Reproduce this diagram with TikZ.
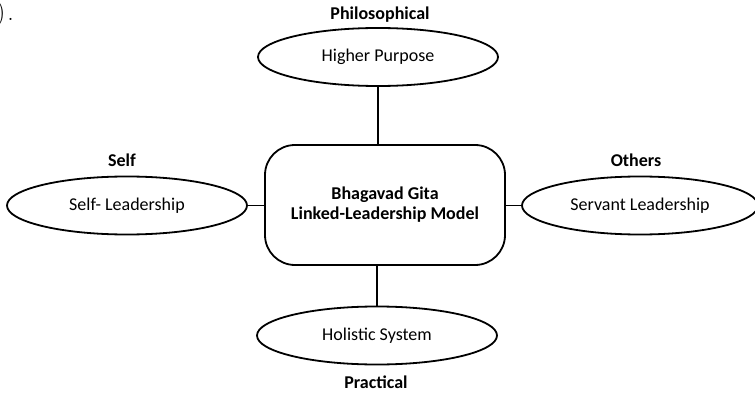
\documentclass[tikz,border=0pt]{standalone}
\usepackage{fontspec}
\newfontfamily\carlitofont{Carlito}
\usetikzlibrary{shapes.geometric}
\begin{document}
\begin{tikzpicture}[x=1pt,y=-1pt,
  heading/.style={font=\carlitofont\bfseries\fontsize{18}{20}\selectfont, inner sep=0pt},
  oval/.style={ellipse, draw, line width=1.8pt, minimum width=240pt, minimum height=58pt, inner sep=0pt,
    font=\carlitofont\fontsize{18}{20}\selectfont},
  hub/.style={rectangle, rounded corners=30pt, draw, line width=1.8pt, minimum width=240pt, minimum height=120pt,
    inner sep=0pt, align=center, font=\carlitofont\bfseries\fontsize{18}{20}\selectfont},
  link/.style={line width=1.8pt}]
\useasboundingbox (0,0) rectangle (755,393);
\node[anchor=base west, inner sep=0pt, font=\fontsize{26}{28}\selectfont] (stray) at (-4,21) {)\kern2pt.};
\node[hub] (hub) at (385,205) {Bhagavad Gita\\Linked-Leadership Model};
\node[oval] (top) at (378,57) {Higher Purpose};
\node[oval] (left) at (127,205.5) {Self- Leadership};
\node[oval, minimum width=236pt] (right) at (640,205.5) {Servant Leadership};
\node[oval] (bottom) at (377,335.5) {Holistic System};
\node[heading] (ctop) at (380,15) {Philosophical};
\node[heading] (cleft) at (122,160) {Self};
\node[heading] (cright) at (636,160) {Others};
\node[heading] (cbottom) at (376,382) {Practical};
\draw[link] (top.south) -- (top.south |- hub.north);
\draw[link] (bottom.north) -- (bottom.north |- hub.south);
\draw[link] (left.east) -- (left.east -| hub.west);
\draw[link] (right.west) -- (right.west -| hub.east);
\end{tikzpicture}
\end{document}
